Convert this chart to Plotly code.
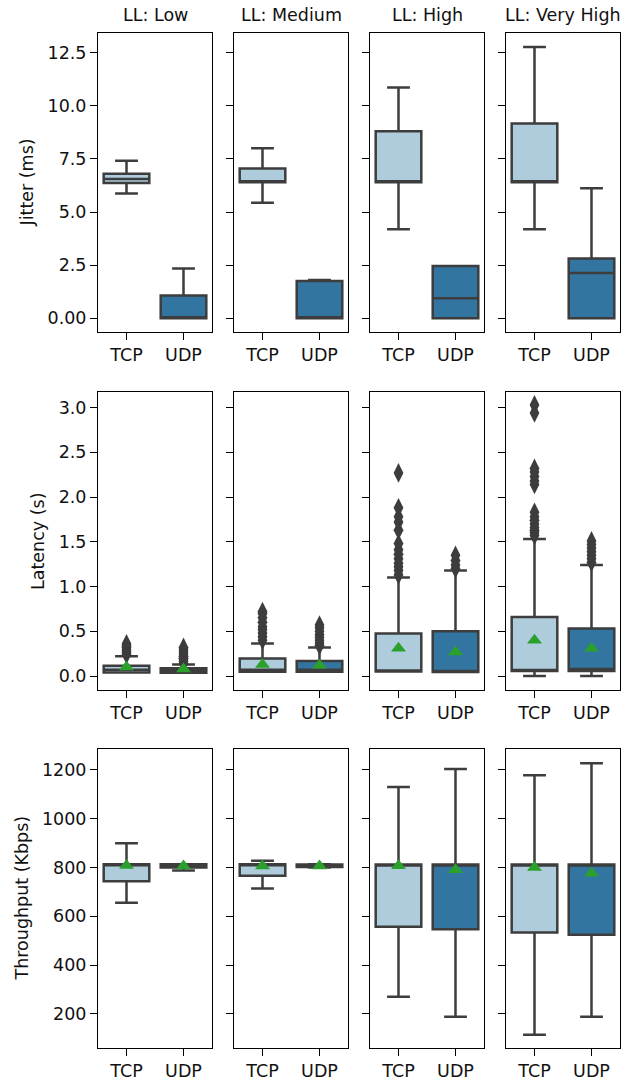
import plotly.graph_objects as go

# ---------------- data ----------------
levels = ["Low", "Medium", "High", "Very High"]
protocols = ["TCP", "UDP"]
metric_titles = ["Jitter (ms)", "Latency (s)", "Throughput (Kbps)"]

# Jitter (ms): [TCP, UDP] per level -> (lowerfence, q1, median, q3, upperfence)
jitter_stats = {
    "Low":       [(5.87, 6.37, 6.56, 6.81, 7.42), (0.0, 0.0, 0.0, 1.07, 2.35)],
    "Medium":    [(5.44, 6.40, 6.40, 7.05, 8.01), (0.0, 0.0, 0.0, 1.75, 1.80)],
    "High":      [(4.19, 6.40, 6.40, 8.80, 10.87), (0.0, 0.0, 0.94, 2.46, 2.46)],
    "Very High": [(4.19, 6.40, 6.40, 9.17, 12.77), (0.0, 0.0, 2.13, 2.81, 6.12)],
}

# Latency (s)
latency_stats = {
    "Low":       [(0.04, 0.04, 0.07, 0.115, 0.22), (0.037, 0.037, 0.06, 0.086, 0.13)],
    "Medium":    [(0.048, 0.048, 0.07, 0.197, 0.365), (0.048, 0.048, 0.07, 0.167, 0.32)],
    "High":      [(0.05, 0.05, 0.056, 0.476, 1.10), (0.045, 0.045, 0.056, 0.50, 1.18)],
    "Very High": [(0.0, 0.056, 0.06, 0.66, 1.53), (0.0, 0.056, 0.08, 0.53, 1.24)],
}
latency_means = {
    "Low": [0.10, 0.08], "Medium": [0.13, 0.12],
    "High": [0.31, 0.27], "Very High": [0.40, 0.31],
}
latency_outliers = {
    "Low": [[0.24, 0.26, 0.28, 0.30, 0.32, 0.34, 0.36],
            [0.14, 0.16, 0.18, 0.20, 0.22, 0.24, 0.26, 0.28, 0.30, 0.32]],
    "Medium": [[0.40, 0.44, 0.48, 0.52, 0.55, 0.60, 0.65, 0.70, 0.72],
               [0.34, 0.37, 0.40, 0.43, 0.46, 0.50, 0.54, 0.57]],
    "High": [[1.13, 1.18, 1.22, 1.26, 1.31, 1.36, 1.41, 1.48, 1.63, 1.72, 1.78, 1.88, 2.27],
             [1.20, 1.24, 1.29, 1.35]],
    "Very High": [[1.57, 1.60, 1.63, 1.66, 1.70, 1.74, 1.78, 1.83, 2.14, 2.18, 2.23, 2.28, 2.32, 2.94, 3.03],
                  [1.27, 1.31, 1.35, 1.39, 1.43, 1.47, 1.51]],
}

# Throughput (Kbps)
throughput_stats = {
    "Low":       [(655, 743, 812, 813, 899), (787, 800, 808, 813, 813)],
    "Medium":    [(714, 766, 812, 813, 827), (800, 802, 808, 812, 813)],
    "High":      [(270, 557, 810, 812, 1129), (188, 547, 810, 812, 1203)],
    "Very High": [(115, 534, 810, 812, 1178), (188, 524, 810, 812, 1227)],
}
throughput_means = {
    "Low": [808, 806], "Medium": [806, 806],
    "High": [807, 790], "Very High": [800, 776],
}

# y axis ticks
jitter_ticks = [0, 2.5, 5.0, 7.5, 10.0, 12.5]
jitter_ticktext = ["0.00", "2.5", "5.0", "7.5", "10.0", "12.5"]
latency_ticks = [0.0, 0.5, 1.0, 1.5, 2.0, 2.5, 3.0]
latency_ticktext = ["0.0", "0.5", "1.0", "1.5", "2.0", "2.5", "3.0"]
throughput_ticks = [200, 400, 600, 800, 1000, 1200]
throughput_ticktext = ["200", "400", "600", "800", "1000", "1200"]

# ---------------- style ----------------
W, H = 641, 1080
box_colors = ["#aeccdb", "#3275a1"]
edge = "#3d3d3d"
mean_color = "#2ca02c"
font = dict(family="DejaVu Sans", size=17.5, color="#111111")

col_px = [(98, 212), (234, 348), (370, 484), (506, 620)]
row_px = [(33, 332), (392, 690), (749, 1048)]
row_ranges = [[-0.645, 13.43], [-0.156, 3.174], [60.5, 1285]]
row_ticks = [(jitter_ticks, jitter_ticktext), (latency_ticks, latency_ticktext),
             (throughput_ticks, throughput_ticktext)]
row_stats = [jitter_stats, latency_stats, throughput_stats]
row_means = [None, latency_means, throughput_means]
row_outliers = [None, latency_outliers, None]

fig = go.Figure()
layout = dict(width=W, height=H, margin=dict(l=0, r=0, t=0, b=0),
              plot_bgcolor="white", paper_bgcolor="white", font=font,
              showlegend=False)

for r in range(3):
    for c, lvl in enumerate(levels):
        idx = r * 4 + c + 1
        xa = "x" if idx == 1 else f"x{idx}"
        ya = "y" if idx == 1 else f"y{idx}"
        xkey = "xaxis" if idx == 1 else f"xaxis{idx}"
        ykey = "yaxis" if idx == 1 else f"yaxis{idx}"
        first_y = "y" if r == 0 else f"y{r * 4 + 1}"
        x0, x1 = col_px[c]
        y0, y1 = row_px[r]
        layout[xkey] = dict(
            domain=[x0 / W, x1 / W], anchor=ya, type="category",
            categoryorder="array", categoryarray=protocols, range=[-0.5, 1.5],
            showline=True, mirror=True, linecolor="black", linewidth=1,
            ticks="outside", ticklen=7, tickwidth=1, tickcolor="black",
            showgrid=False, zeroline=False, tickfont=font,
        )
        tv, tt = row_ticks[r]
        ydict = dict(
            domain=[1 - y1 / H, 1 - y0 / H], anchor=xa, range=row_ranges[r],
            tickvals=tv, ticktext=tt,
            showline=True, mirror=True, linecolor="black", linewidth=1,
            ticks="outside", ticklen=7, tickwidth=1, tickcolor="black",
            showgrid=False, zeroline=False, tickfont=font,
            showticklabels=(c == 0),
        )
        if c > 0:
            ydict["matches"] = first_y
        layout[ykey] = ydict

        for p, proto in enumerate(protocols):
            lf, q1, med, q3, uf = row_stats[r][lvl][p]
            fig.add_trace(go.Box(
                x=[proto], q1=[q1], median=[med], q3=[q3],
                lowerfence=[lf], upperfence=[uf],
                fillcolor=box_colors[p], line=dict(color=edge, width=2.5),
                width=0.8, whiskerwidth=0.5, boxpoints=False,
                xaxis=xa, yaxis=ya, showlegend=False,
            ))
            if row_outliers[r] is not None:
                ys = row_outliers[r][lvl][p]
                fig.add_trace(go.Scatter(
                    x=[proto] * len(ys), y=ys, mode="markers",
                    marker=dict(symbol="diamond-tall", size=14, color=edge,
                                line=dict(width=0)),
                    xaxis=xa, yaxis=ya, showlegend=False,
                ))
            if row_means[r] is not None:
                fig.add_trace(go.Scatter(
                    x=[proto], y=[row_means[r][lvl][p]], mode="markers",
                    marker=dict(symbol="triangle-up", size=13, color=mean_color,
                                line=dict(width=0)),
                    xaxis=xa, yaxis=ya, showlegend=False,
                ))

annotations = []
for c, lvl in enumerate(levels):
    x0, x1 = col_px[c]
    annotations.append(dict(
        text=f"LL: {lvl}", x=(x0 + x1) / 2 / W, y=1 - 15 / H,
        xref="paper", yref="paper", xanchor="center", yanchor="middle",
        showarrow=False, font=font,
    ))
ytitle_x = [26, 38, 21]
for r, t in enumerate(metric_titles):
    y0, y1 = row_px[r]
    annotations.append(dict(
        text=t, x=ytitle_x[r] / W, y=1 - (y0 + y1) / 2 / H,
        xref="paper", yref="paper", xanchor="center", yanchor="middle",
        textangle=-90, showarrow=False, font=font,
    ))
layout["annotations"] = annotations

fig.update_layout(**layout)
fig.write_html("out.html", config={"displayModeBar": False},
               post_script="document.body.style.margin='0';")
